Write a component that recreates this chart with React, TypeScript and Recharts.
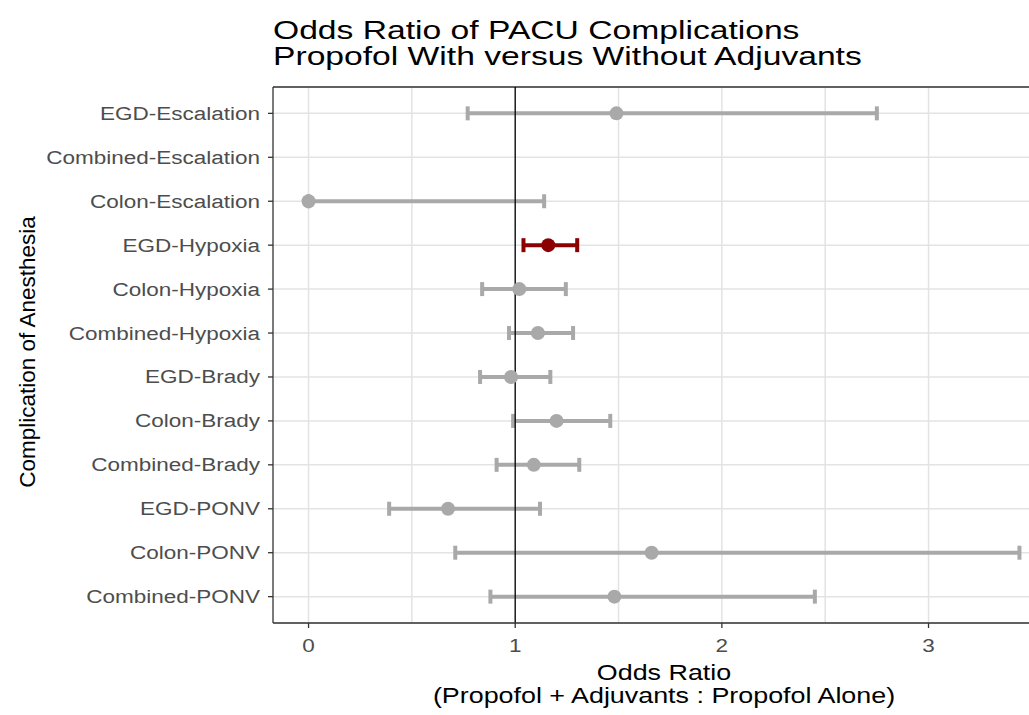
import React from "react";
import {
    ScatterChart,
    Scatter,
    XAxis,
    YAxis,
    CartesianGrid,
    ErrorBar,
    ReferenceLine,
} from "recharts";

// top to bottom, as on the y axis
const categories = [
    "EGD-Escalation",
    "Combined-Escalation",
    "Colon-Escalation",
    "EGD-Hypoxia",
    "Colon-Hypoxia",
    "Combined-Hypoxia",
    "EGD-Brady",
    "Colon-Brady",
    "Combined-Brady",
    "EGD-PONV",
    "Colon-PONV",
    "Combined-PONV",
];
const oddsRatio = [1.49, null, 0.0, 1.16, 1.02, 1.11, 0.98, 1.2, 1.09, 0.675, 1.66, 1.48];
const lowerCI = [0.77, null, 0.0, 1.04, 0.84, 0.97, 0.83, 0.99, 0.91, 0.39, 0.71, 0.88];
const upperCI = [2.75, null, 1.14, 1.3, 1.245, 1.28, 1.17, 1.46, 1.31, 1.12, 3.44, 2.45];
const highlighted = ["EGD-Hypoxia"];

const xTicks = [0, 1, 2, 3];
const xGridValues = [0, 0.5, 1, 1.5, 2, 2.5, 3, 3.5];
const yTicks = categories.map((_, i) => i + 1);

const FONT = '"Liberation Sans", Arial, Helvetica, sans-serif';
const SX = 1.25; // text in the reference is drawn a bit wide
const GREY = "#A9A9A9";
const RED = "#8B0000";

const rows = categories
    .map((name, i) => ({
        name,
        row: i + 1,
        or: oddsRatio[i],
        ci: oddsRatio[i] == null ? null : [oddsRatio[i]! - lowerCI[i]!, upperCI[i]! - oddsRatio[i]!],
    }))
    .filter((d) => d.or != null);

const plainRows = rows.filter((d) => !highlighted.includes(d.name));
const markedRows = rows.filter((d) => highlighted.includes(d.name));

const YTick = (props: any) => {
    const { x, y, payload } = props;
    return (
        <text
            transform={`translate(${x},${y}) scale(${SX},1)`}
            textAnchor="end"
            dy={6.5}
            fontSize={18}
            fontFamily={FONT}
            fill="#4D4D4D"
        >
            {categories[payload.value - 1]}
        </text>
    );
};

const XTick = (props: any) => {
    const { x, y, payload } = props;
    return (
        <text
            transform={`translate(${x},${y}) scale(${SX},1)`}
            textAnchor="middle"
            dy={14}
            fontSize={18}
            fontFamily={FONT}
            fill="#4D4D4D"
        >
            {payload.value}
        </text>
    );
};

const dot = (color: string) => (p: any) => <circle cx={p.cx} cy={p.cy} r={7} fill={color} />;

export default function App() {
    return (
        <div
            style={{
                position: "absolute",
                left: 0,
                top: 0,
                width: 1029,
                height: 715,
                overflow: "hidden",
                background: "#fff",
                fontFamily: FONT,
            }}
        >
            <ScatterChart width={1060} height={715} margin={{ top: 87, right: 5, bottom: 62, left: 12 }}>
                <CartesianGrid
                    stroke="#E3E3E3"
                    strokeWidth={1.5}
                    verticalValues={xGridValues}
                />
                <XAxis
                    type="number"
                    dataKey="or"
                    domain={[-0.172, 3.612]}
                    allowDataOverflow
                    ticks={xTicks}
                    interval={0}
                    height={30}
                    tickSize={5}
                    tickMargin={10}
                    stroke="#333"
                    strokeWidth={1.3}
                    tick={<XTick />}
                />
                <YAxis
                    type="number"
                    dataKey="row"
                    domain={[0.4, 12.6]}
                    allowDataOverflow
                    reversed
                    ticks={yTicks}
                    interval={0}
                    width={261}
                    tickSize={5}
                    tickMargin={8}
                    stroke="#333"
                    strokeWidth={1.3}
                    tick={<YTick />}
                />
                <ReferenceLine y={0.4} stroke="#333" strokeWidth={1.3} />
                <ReferenceLine x={3.612} stroke="#333" strokeWidth={1.3} />
                <Scatter data={plainRows} fill={GREY} shape={dot(GREY)} isAnimationActive={false}>
                    <ErrorBar dataKey="ci" direction="x" width={7} strokeWidth={4} stroke={GREY} isAnimationActive={false} />
                </Scatter>
                <Scatter data={markedRows} fill={RED} shape={dot(RED)} isAnimationActive={false}>
                    <ErrorBar dataKey="ci" direction="x" width={7} strokeWidth={4} stroke={RED} isAnimationActive={false} />
                </Scatter>
                <ReferenceLine x={1} stroke="#000" strokeWidth={1.3} />
            </ScatterChart>
            <svg
                width={1029}
                height={715}
                style={{ position: "absolute", left: 0, top: 0, pointerEvents: "none" }}
                fontFamily={FONT}
            >
                <g transform="translate(273,38.5) scale(1.27,1)">
                    <text fontSize={26.5} fill="#000">Odds Ratio of PACU Complications</text>
                    <text y={27} fontSize={26.5} fill="#000">Propofol With versus Without Adjuvants</text>
                </g>
                <g transform={`translate(664,680) scale(${SX},1)`}>
                    <text textAnchor="middle" fontSize={21.5} fill="#000">Odds Ratio</text>
                    <text y={23} textAnchor="middle" fontSize={21.5} fill="#000">
                        (Propofol + Adjuvants : Propofol Alone)
                    </text>
                </g>
                <text
                    transform="translate(35,352) rotate(-90)"
                    textAnchor="middle"
                    fontSize={22.5}
                    fill="#000"
                >
                    Complication of Anesthesia
                </text>
            </svg>
        </div>
    );
}
